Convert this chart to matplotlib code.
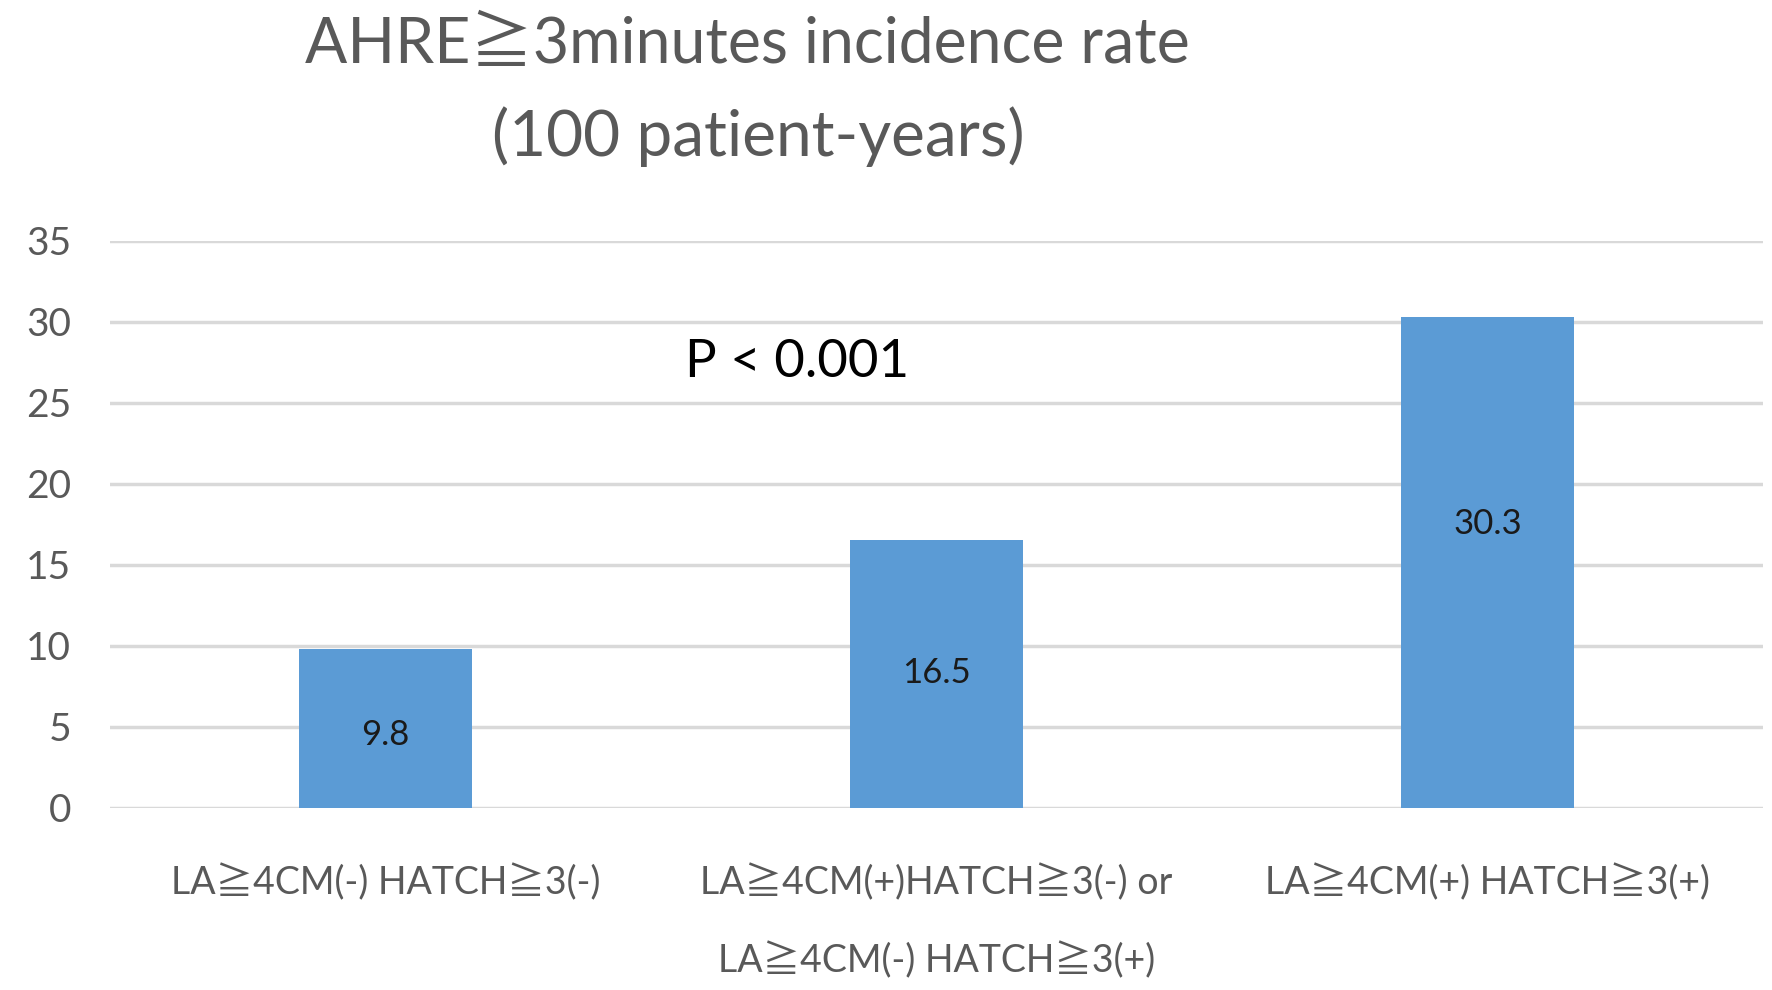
import matplotlib.pyplot as plt

# data
categories = ["LA≧4CM(-) HATCH≧3(-)",
              "LA≧4CM(+)HATCH≧3(-) or\nLA≧4CM(-) HATCH≧3(+)",
              "LA≧4CM(+) HATCH≧3(+)"]
rates = [9.8, 16.5, 30.3]
value_labels = ["9.8", "16.5", "30.3"]
y_ticks = [0, 5, 10, 15, 20, 25, 30, 35]

# where the value labels sit inside the bars (as in the original)
label_y = [4.5, 8.3, 17.5]

fonts = ['Lato', 'Noto Sans CJK JP', 'DejaVu Sans']
plt.rcParams['font.family'] = fonts

fig = plt.figure(figsize=(17.72, 9.9), dpi=100)
ax = fig.add_axes([0.062, 0.184, 0.933, 0.573])

x = range(len(categories))
bars = ax.bar(x, rates, width=0.313, color='#5B9BD5', zorder=3)

# value labels inside bars
for xi, ly, lab in zip(x, label_y, value_labels):
    ax.text(xi, ly, lab, ha='center', va='center', fontsize=25,
            color='#1a1a1a', zorder=4)

ax.set_xlim(-0.5, len(categories) - 0.5)
ax.set_ylim(0, 35)
ax.set_yticks(y_ticks)
ax.set_yticklabels([str(t) for t in y_ticks])
ax.set_xticks(list(x))
ax.set_xticklabels(categories, linespacing=2.35)

ax.grid(axis='y', color='#D9D9D9', linewidth=2.5, zorder=0)
for s in ax.spines.values():
    s.set_visible(False)
ax.tick_params(axis='y', length=0, pad=28, labelsize=28, labelcolor='#595959')
ax.tick_params(axis='x', length=0, pad=40, labelsize=27, labelcolor='#595959')
for lab in ax.get_xticklabels():
    lab.set_verticalalignment('top')

# title
fig.text(0.422, 0.955, "AHRE≧3minutes incidence rate", ha='center', va='center',
         fontsize=45, color='#595959')
fig.text(0.428, 0.862, "(100 patient-years)", ha='center', va='center',
         fontsize=46, color='#595959')

# p-value annotation
fig.text(0.45, 0.634, "P < 0.001", ha='center', va='center', fontsize=38,
         color='#000000')

fig.savefig('out.png', dpi=100)
